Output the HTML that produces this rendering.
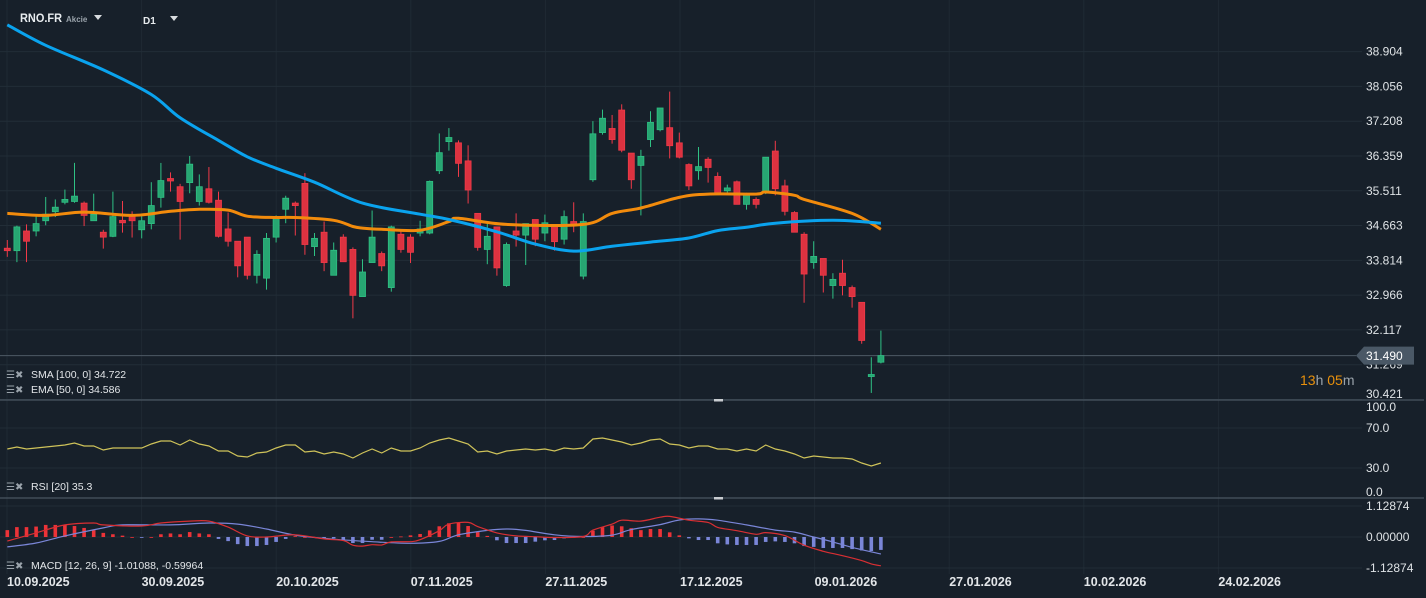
<!DOCTYPE html>
<html><head><meta charset="utf-8"><title>RNO.FR chart</title>
<style>
html,body{margin:0;padding:0;background:#17202a;overflow:hidden}
svg{display:block;font-family:"Liberation Sans",sans-serif}
</style></head>
<body>
<svg id="chart" width="1426" height="598" viewBox="0 0 1426 598">
<rect x="0" y="0" width="1426" height="598" fill="#17202a"/>
<g id="grid"></g>
<g id="priceArea"></g>
<g id="rsiArea"></g>
<g id="macdArea"></g>
<g id="axes"></g>
<g>
<text x="20" y="22" fill="#e8ecef" font-size="12" font-weight="bold" textLength="42" lengthAdjust="spacingAndGlyphs">RNO.FR</text>
<text x="66" y="22" fill="#9aa3ab" font-size="8" font-weight="bold">Akcie</text>
<path d="M94 15 L102 15 L98 20 Z" fill="#d8dcdf"/>
<text x="143" y="24" fill="#e8ecef" font-size="10" font-weight="bold">D1</text>
<path d="M170 16 L178 16 L174 21 Z" fill="#d8dcdf"/>
</g>
<g font-size="10.5" fill="#e3e6e9">
<g><text x="6" y="378" fill="#9aa3ab" font-size="10">☰✖</text><text x="31" y="378">SMA [100,  0] 34.722</text></g>
<g><text x="6" y="393" fill="#9aa3ab" font-size="10">☰✖</text><text x="31" y="393">EMA [50,  0] 34.586</text></g>
<g><text x="6" y="490" fill="#9aa3ab" font-size="10">☰✖</text><text x="31" y="490">RSI [20]  35.3</text></g>
<g><text x="6" y="569" fill="#9aa3ab" font-size="10">☰✖</text><text x="31" y="569">MACD [12, 26, 9] -1.01088,  -0.59964</text></g>
</g>
<text x="1300" y="385" font-size="14" fill="#e8900c">13<tspan fill="#9aa3ab">h</tspan> 05<tspan fill="#9aa3ab">m</tspan></text>
</svg>
<script>
// ---------- data ----------
const dates = ["10.09.2025","30.09.2025","20.10.2025","07.11.2025","27.11.2025","17.12.2025","09.01.2026","27.01.2026","10.02.2026","24.02.2026"];
const opens = [34.11,34.05,34.53,34.53,34.78,35.00,35.23,35.25,35.21,34.78,34.50,34.40,34.79,34.91,34.56,34.71,35.35,35.81,35.61,35.71,35.25,35.56,35.28,34.58,34.28,34.38,33.45,33.38,34.38,35.06,35.21,35.69,34.15,34.50,33.45,34.38,34.08,32.93,33.76,33.98,33.15,34.45,34.38,34.48,34.48,36.00,36.71,36.68,36.24,34.96,34.08,34.63,33.20,34.53,34.43,34.81,34.48,34.68,34.33,34.76,33.43,35.78,36.93,37.03,37.48,36.43,36.13,36.76,37.00,37.05,36.68,36.15,36.00,36.28,35.86,35.51,35.73,35.18,35.30,35.46,36.48,35.63,34.98,34.45,33.76,33.86,33.20,33.50,33.15,32.79,30.98,31.33];
const highs = [34.31,34.66,34.69,34.89,35.36,35.30,35.54,36.19,35.25,35.44,34.56,35.49,35.26,35.01,34.89,35.72,36.19,35.96,35.68,36.36,35.91,36.09,35.49,34.98,34.28,34.38,34.06,34.48,34.91,35.39,35.25,35.94,34.48,34.76,34.25,34.45,34.13,33.84,35.03,34.03,34.66,34.53,34.45,34.78,35.76,36.91,37.04,36.74,36.62,34.96,34.73,34.63,34.25,34.96,34.71,34.81,34.93,34.68,35.03,35.23,34.96,37.21,37.49,37.36,37.62,36.43,36.51,37.45,37.53,37.93,36.93,36.18,36.58,36.33,35.96,35.66,35.76,35.46,35.35,36.33,36.73,35.78,35.01,34.50,34.28,33.86,33.50,33.83,33.20,32.79,31.45,32.10];
const lows = [33.90,33.77,33.77,34.40,34.67,34.87,35.18,35.22,34.65,34.78,34.10,34.38,34.49,34.37,34.35,34.57,35.10,35.49,34.32,35.45,35.15,35.20,34.37,34.15,33.40,33.35,33.25,33.10,34.25,34.72,34.42,33.95,33.92,33.55,33.45,33.78,32.40,32.93,33.76,33.55,33.05,34.00,33.75,34.40,34.45,35.92,36.49,35.85,35.20,34.05,33.72,33.44,33.17,34.15,33.70,34.16,34.28,34.05,34.20,34.50,33.35,35.73,36.88,36.66,36.45,35.56,34.91,36.58,36.96,36.30,36.30,35.53,35.78,35.71,35.46,35.43,35.18,35.05,35.08,35.43,35.40,34.91,34.50,32.78,33.61,33.03,32.88,32.96,32.66,31.78,30.58,31.30];
const closes = [34.05,34.63,34.28,34.71,34.94,35.11,35.30,35.38,34.91,34.94,34.38,34.88,34.73,34.78,34.78,35.15,35.76,35.75,35.25,36.16,35.61,35.23,34.40,34.28,33.68,33.45,33.96,34.35,34.83,35.33,35.15,34.20,34.35,33.76,34.06,33.78,32.96,33.53,34.38,33.68,34.63,34.08,34.01,34.58,35.74,36.44,36.81,36.18,35.53,34.13,34.40,33.63,34.20,34.43,34.71,34.33,34.73,34.27,34.88,34.66,34.76,36.90,37.28,36.76,36.50,35.78,36.35,37.18,37.53,36.61,36.33,35.63,36.10,36.08,35.46,35.58,35.18,35.43,35.18,36.33,35.56,35.01,34.50,33.48,33.91,33.45,33.35,33.20,32.93,31.86,31.03,31.49];
const smaIdx = [0,4,10,15,18,22,25,28,32,37,43,46,51,55,59,63,67,71,74,77,80,86,91];
const smaVal = [39.56,39.06,38.46,37.86,37.29,36.74,36.34,36.06,35.72,35.21,34.94,34.81,34.51,34.21,34.04,34.16,34.26,34.36,34.54,34.62,34.72,34.79,34.72];
const emaIdx = [0,4,8,13,17,20,23,25,28,30,34,36,37,39,43,46,47,52,60,63,66,70,73,78,79,82,83,88,91];
const emaVal = [34.96,34.91,34.99,34.91,35.01,35.06,35.04,34.89,34.86,34.86,34.79,34.64,34.60,34.57,34.55,34.76,34.84,34.69,34.69,34.96,35.09,35.35,35.43,35.43,35.48,35.40,35.30,34.96,34.57];
const priceTicks = [38.904,38.056,37.208,36.359,35.511,34.663,33.814,32.966,32.117,31.269,30.421];
const lastPrice = 31.490;
const rsiVals = [49,51,49,50,51,52,53,55,52,52,48,50,50,50,50,54,57,57,53,58,54,52,47,47,42,41,45,46,50,53,53,46,47,44,46,44,40,45,49,45,50,47,47,50,55,58,60,57,54,46,47,44,47,48,49,48,49,47,50,49,50,59,60,58,56,53,55,58,59,54,53,50,52,52,49,49,47,49,47,53,49,47,44,40,42,41,40,40,39,35,32,35];
const rsiTicks = [100,70,30,0];
const histVals = [0.25,0.36,0.36,0.38,0.44,0.44,0.44,0.40,0.33,0.25,0.15,0.10,0.05,0.0,-0.03,0.0,0.10,0.13,0.10,0.18,0.13,0.10,-0.07,-0.15,-0.26,-0.33,-0.33,-0.29,-0.18,-0.07,0.03,0.0,-0.03,-0.05,-0.05,-0.10,-0.22,-0.22,-0.10,-0.10,0.0,0.02,0.06,0.11,0.24,0.39,0.50,0.52,0.40,0.18,0.04,-0.12,-0.22,-0.22,-0.22,-0.17,-0.12,-0.11,-0.05,0.0,0.0,0.23,0.36,0.42,0.39,0.32,0.25,0.29,0.29,0.17,0.06,-0.05,-0.11,-0.11,-0.23,-0.27,-0.29,-0.29,-0.29,-0.18,-0.16,-0.18,-0.23,-0.33,-0.36,-0.40,-0.40,-0.40,-0.44,-0.49,-0.51,-0.47];
const macdIdx = [0,3,6,9,10,14,16,19,21,23,25,27,30,33,35,36,37,38,39,40,42,43,45,46,48,49,51,53,55,57,60,61,63,64,66,68,69,71,73,74,76,78,79,81,83,85,87,89,90,91];
const macdVal = [-0.15,0.15,0.44,0.51,0.44,0.40,0.51,0.58,0.58,0.36,0.04,0.0,0.08,-0.07,-0.13,-0.30,-0.33,-0.28,-0.29,-0.18,-0.17,-0.10,0.23,0.47,0.53,0.38,0.15,0.04,0.01,-0.02,0.02,0.25,0.47,0.61,0.58,0.72,0.75,0.61,0.53,0.35,0.23,0.10,0.16,0.05,-0.30,-0.52,-0.68,-0.86,-0.98,-1.05];
const sigIdx = [0,3,6,10,12,17,21,24,27,30,34,38,42,45,47,50,52,54,57,60,63,65,68,70,72,74,77,80,82,84,86,88,91];
const sigVal = [-0.36,-0.22,0.04,0.33,0.44,0.44,0.51,0.47,0.29,0.07,-0.08,-0.17,-0.23,-0.16,0.08,0.24,0.29,0.24,0.08,0.02,0.07,0.27,0.45,0.62,0.66,0.61,0.44,0.25,0.18,0.0,-0.18,-0.38,-0.62];
const macdTicks = [1.12874,0,-1.12874];

// ---------- scales ----------
const NS="http://www.w3.org/2000/svg";
const X0=7.3, STEP=9.6, PLOT_R=1362;
function xAt(i){return X0+i*STEP;}
function yPrice(p){return 156+(36.359-p)*41.0;}
function yRsi(v){return 498-v*1.0;}
function yMacd(v){return 537-v*27.46;}
function mk(tag,attrs,parent){const e=document.createElementNS(NS,tag);for(const k in attrs)e.setAttribute(k,attrs[k]);parent.appendChild(e);return e;}
function pathFrom(idx,val,yf){return idx.map((ix,k)=>(k?"L":"M")+xAt(ix).toFixed(1)+" "+yf(val[k]).toFixed(1)).join(" ");}
function smoothFrom(idx,val,yf){
  const P=idx.map((ix,k)=>[xAt(ix),yf(val[k])]);
  let d="M"+P[0][0].toFixed(1)+" "+P[0][1].toFixed(1);
  for(let k=0;k<P.length-1;k++){
    const p0=P[Math.max(0,k-1)],p1=P[k],p2=P[k+1],p3=P[Math.min(P.length-1,k+2)];
    const c1=[p1[0]+(p2[0]-p0[0])/6,p1[1]+(p2[1]-p0[1])/6];
    const c2=[p2[0]-(p3[0]-p1[0])/6,p2[1]-(p3[1]-p1[1])/6];
    d+=" C"+c1[0].toFixed(1)+" "+c1[1].toFixed(1)+" "+c2[0].toFixed(1)+" "+c2[1].toFixed(1)+" "+p2[0].toFixed(1)+" "+p2[1].toFixed(1);
  }
  return d;
}

const grid=document.getElementById('grid');
const pa=document.getElementById('priceArea');
const ra=document.getElementById('rsiArea');
const ma=document.getElementById('macdArea');
const ax=document.getElementById('axes');

dates.forEach((d,k)=>{
  const gx=7+k*134.6;
  const l=mk('line',{x1:gx,y1:0,x2:gx,y2:574,stroke:'#1f2a34','stroke-width':1},grid);
  
  
  const t=mk('text',{x:gx,y:586,fill:'#e3e6e9','font-size':12.5,'font-weight':'bold'},ax);
  t.textContent=d;
  
  
});
priceTicks.forEach(p=>{
  const y=yPrice(p);
  const l=mk('line',{x1:0,y1:y,x2:PLOT_R,y2:y,stroke:'#222d37','stroke-width':1},grid);
  
  
  const t=mk('text',{x:1366,y:Math.min(y,394)+4,fill:'#dfe3e6','font-size':12},ax);
  t.textContent=p.toFixed(3);
  
  
});
rsiTicks.forEach(v=>{
  const y=yRsi(v);
  if(v===70||v===30){
    const l=mk('line',{x1:0,y1:y,x2:PLOT_R,y2:y,stroke:'#222d37','stroke-width':1},grid);
    
    
  }
  const ty=v===100?411:(v===0?496:y+4);
  const t=mk('text',{x:1366,y:ty,fill:'#dfe3e6','font-size':12},ax);
  t.textContent=v.toFixed(1);
  
  
});
macdTicks.forEach(v=>{
  const y=yMacd(v);
  const l=mk('line',{x1:0,y1:y,x2:PLOT_R,y2:y,stroke:'#222d37','stroke-width':1},grid);
  
  
  const t=mk('text',{x:1366,y:y+4,fill:'#dfe3e6','font-size':12},ax);
  t.textContent=v.toFixed(5);
  
  
});
[400,498].forEach(y=>{
  const l=mk('line',{x1:0,y1:y,x2:1424,y2:y,stroke:'#4a5561','stroke-width':1.2},ax);
  
  
  const h=mk('rect',{x:714,y:y-1,width:9,height:2.5,fill:'#c9cdd1'},ax);
  
  
});

const ly=yPrice(lastPrice);
const pl=mk('line',{x1:0,y1:ly,x2:1356,y2:ly,stroke:'#4e5965','stroke-width':1},pa);


const pb=mk('path',{d:`M1356 ${ly} L1364 ${ly-9} L1414 ${ly-9} L1414 ${ly+9} L1364 ${ly+9} Z`,fill:'#4a5866'},ax);


const pt=mk('text',{x:1366,y:ly+4.5,fill:'#ffffff','font-size':12},ax);
pt.textContent=lastPrice.toFixed(3);



opens.forEach((o,i)=>{
  const c=closes[i],h=highs[i],lo=lows[i];
  const up=c>=o, col=up?'#27a672':'#dc3240', edge=up?'#2fc184':'#f03a48';
  const x=xAt(i);
  const g=mk('g',{},pa);
  
  
  mk('line',{x1:x,y1:yPrice(h),x2:x,y2:yPrice(lo),stroke:edge,'stroke-width':1},g);
  const top=yPrice(Math.max(o,c)), bot=yPrice(Math.min(o,c));
  mk('rect',{x:x-3,y:top,width:6,height:Math.max(1.5,bot-top),fill:col,stroke:edge,'stroke-width':0.8},g);
});
const ema=mk('path',{d:smoothFrom(emaIdx,emaVal,yPrice),fill:'none',stroke:'#f28b0c','stroke-width':3,'stroke-linejoin':'round'},pa);


const sma=mk('path',{d:smoothFrom(smaIdx,smaVal,yPrice),fill:'none',stroke:'#0aa3ee','stroke-width':3,'stroke-linejoin':'round'},pa);



const rsiIdx=rsiVals.map((v,i)=>i);
const rsi=mk('path',{d:pathFrom(rsiIdx,rsiVals,yRsi),fill:'none',stroke:'#cfc35a','stroke-width':1.2},ra);



histVals.forEach((v,i)=>{
  const x=xAt(i), y0=yMacd(0), y1=yMacd(v);
  const r=mk('rect',{x:x-1.8,y:Math.min(y0,y1),width:3.6,height:Math.max(0.8,Math.abs(y1-y0)),fill:v>=0?'#ec3338':'#7a86d8'},ma);
  
  
});
const sig=mk('path',{d:smoothFrom(sigIdx,sigVal,yMacd),fill:'none',stroke:'#7a86d8','stroke-width':1.2},ma);


const mac=mk('path',{d:smoothFrom(macdIdx,macdVal,yMacd),fill:'none',stroke:'#d92f33','stroke-width':1.2},ma);


</script>
</body></html>
